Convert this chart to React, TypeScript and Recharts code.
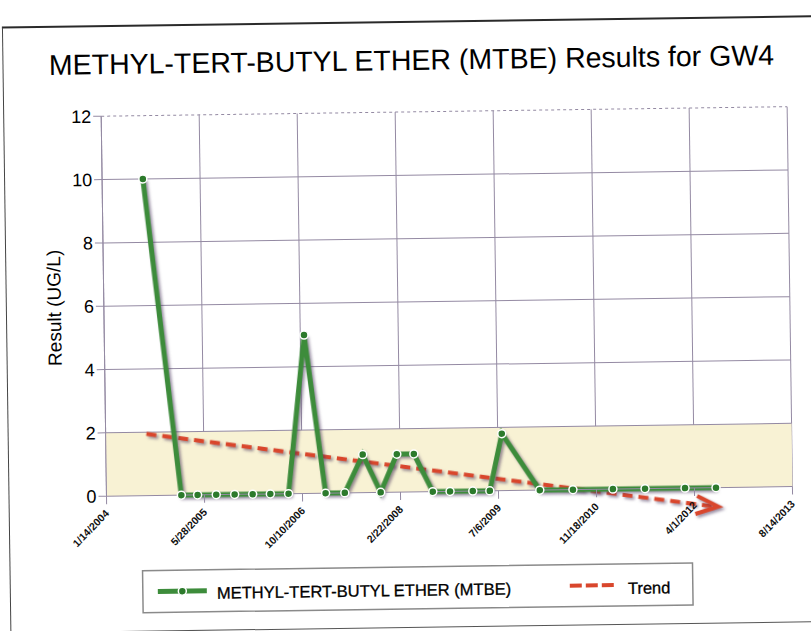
import React from 'react';
import {
  LineChart, Line, XAxis, YAxis, CartesianGrid, ReferenceArea, ReferenceLine, ReferenceDot,
} from 'recharts';

// sample dates and results (UG/L)
const sampleDates = [
  '2004-08-09', '2005-01-30', '2005-04-23', '2005-07-27', '2005-10-29', '2006-01-29',
  '2006-04-29', '2006-07-31', '2006-10-29', '2007-02-05', '2007-05-14', '2007-08-16',
  '2007-11-13', '2008-02-06', '2008-05-03', '2008-08-05', '2008-11-01', '2009-02-25',
  '2009-05-23', '2009-07-27', '2010-02-02', '2010-07-21', '2011-02-10', '2011-07-24',
  '2012-02-13', '2012-07-20',
];
const mtbeValues = [
  10, 0, 0, 0, 0, 0,
  0, 0, 5, 0, 0, 1.2,
  0, 1.2, 1.2, 0, 0, 0,
  0, 1.8, 0, 0, 0, 0,
  0, 0,
];

// linear trend, start and end (runs below zero at the end)
const trendDates = ['2004-08-09', '2012-07-20'];
const trendValues = [1.95, -0.6];

const xTickLabels = [
  '1/14/2004', '5/28/2005', '10/10/2006', '2/22/2008',
  '7/6/2009', '11/18/2010', '4/1/2012', '8/14/2013',
];
const yTicks = [0, 2, 4, 6, 8, 10, 12];

const iso = (s: string) => Date.parse(s + 'T00:00:00Z');
const mdy = (s: string) => {
  const [m, d, y] = s.split('/').map(Number);
  return Date.UTC(y, m - 1, d);
};
const fmt = (t: number) => {
  const d = new Date(t);
  return `${d.getUTCMonth() + 1}/${d.getUTCDate()}/${d.getUTCFullYear()}`;
};

const xTicks = xTickLabels.map(mdy);
const data = sampleDates.map((s, i) => ({ t: iso(s), v: mtbeValues[i] }));
const trend = trendDates.map((s, i) => ({ x: iso(s), y: trendValues[i] }));

const FONT = "Arial, 'Liberation Sans', sans-serif";
const GRID = '#948aa3';
const RED = '#d9462c';

const DateTick = ({ x, y, payload }: any) => (
  <g transform={`translate(${x + 3},${y + 8})`}>
    <text textAnchor="end" transform="rotate(-45)" fontSize={10.5} fontWeight="bold"
      fill="#111" fontFamily={FONT}>
      {fmt(payload.value)}
    </text>
  </g>
);

const TrendArrow = ({ cx, cy }: any) => (
  <path className="trend-line" d={`M${cx - 19},${cy - 11} L${cx + 2},${cy} L${cx - 21},${cy + 7}`}
    fill="none" stroke={RED} strokeWidth={4} strokeLinejoin="miter" />
);

export default function App() {
  return (
    <div style={{ position: 'absolute', left: 0, top: 0, width: 811, height: 631, overflow: 'hidden', background: '#fff' }}>
      <style>{`
        .mtbe-line, .trend-line { filter: drop-shadow(2px 2px 1.5px rgba(70,50,90,0.55)); }
      `}</style>
      <div style={{
        position: 'absolute', left: 0, top: 0, width: 811, height: 631,
        transform: 'rotate(-0.8deg)', transformOrigin: '405px 315px',
      }}>
        <div style={{
          position: 'absolute', left: 6, top: 21, width: 830, height: 604,
          borderTop: '2px solid #2a2a2a', borderLeft: '1.5px solid #444', borderBottom: '1.5px solid #555',
        }} />
        <div style={{ position: 'absolute', left: 0, top: 0 }}>
          <LineChart width={811} height={560} margin={{ top: 112, left: 44, right: 21, bottom: 18 }}>
            <ReferenceArea y1={0} y2={2} fill="#f8f2d4" fillOpacity={1} stroke="none" />
            <CartesianGrid horizontal={false} stroke={GRID} strokeWidth={1} />
            {yTicks.filter((v) => v > 0).map((v) => (
              <ReferenceLine key={v} y={v} stroke={GRID} strokeWidth={1}
                strokeDasharray={v === 12 ? '3 3' : undefined} />
            ))}
            <XAxis dataKey="t" type="number" domain={[xTicks[0], xTicks[xTicks.length - 1]]}
              ticks={xTicks} tick={<DateTick />} tickSize={8} stroke={GRID}
              height={50} interval={0} />
            <YAxis domain={[0, 12]} ticks={yTicks} width={60} tickSize={8}
              stroke={GRID} tick={{ fontSize: 18, fill: '#000', fontFamily: FONT }} interval={0} />
            <ReferenceLine className="trend-line" segment={trend} ifOverflow="visible"
              stroke={RED} strokeWidth={4} strokeDasharray="10 6" />
            <ReferenceDot x={trend[1].x} y={trend[1].y} ifOverflow="visible" shape={<TrendArrow />} />
            <Line className="mtbe-line" data={data} dataKey="v" stroke="#3d8c3b" strokeWidth={5}
              dot={{ r: 4, fill: '#2c7a2c', stroke: '#fff', strokeWidth: 1.5 }}
              isAnimationActive={false} />
          </LineChart>
        </div>
        <svg width={811} height={631} style={{ position: 'absolute', left: 0, top: 0, pointerEvents: 'none' }}>
          <text x={415} y={70} textAnchor="middle" fontSize={28.5} fontFamily={FONT} fill="#000">
            METHYL-TERT-BUTYL ETHER (MTBE) Results for GW4
          </text>
          <text x={61} y={303} transform="rotate(-90 61 303)" textAnchor="middle" fontSize={19}
            fontFamily={FONT} fill="#000">
            Result (UG/L)
          </text>
          <rect x={139} y={567} width={550} height={42} fill="#fff" stroke="#8a8a8a" strokeWidth={1.5} />
          <line x1={154} y1={588} x2={203} y2={588} stroke="#3d8c3b" strokeWidth={5} />
          <circle cx={178.5} cy={588} r={4} fill="#2c7a2c" stroke="#fff" strokeWidth={1.5} />
          <text x={213} y={596} fontSize={16.5} fontFamily={FONT} fill="#000" stroke="#000" strokeWidth={0.3}>
            METHYL-TERT-BUTYL ETHER (MTBE)
          </text>
          <line x1={566} y1={588} x2={611} y2={588} stroke={RED} strokeWidth={4} strokeDasharray="12 4" />
          <text x={624} y={597} fontSize={16.5} fontFamily={FONT} fill="#000" stroke="#000" strokeWidth={0.3}>Trend</text>
        </svg>
      </div>
    </div>
  );
}
